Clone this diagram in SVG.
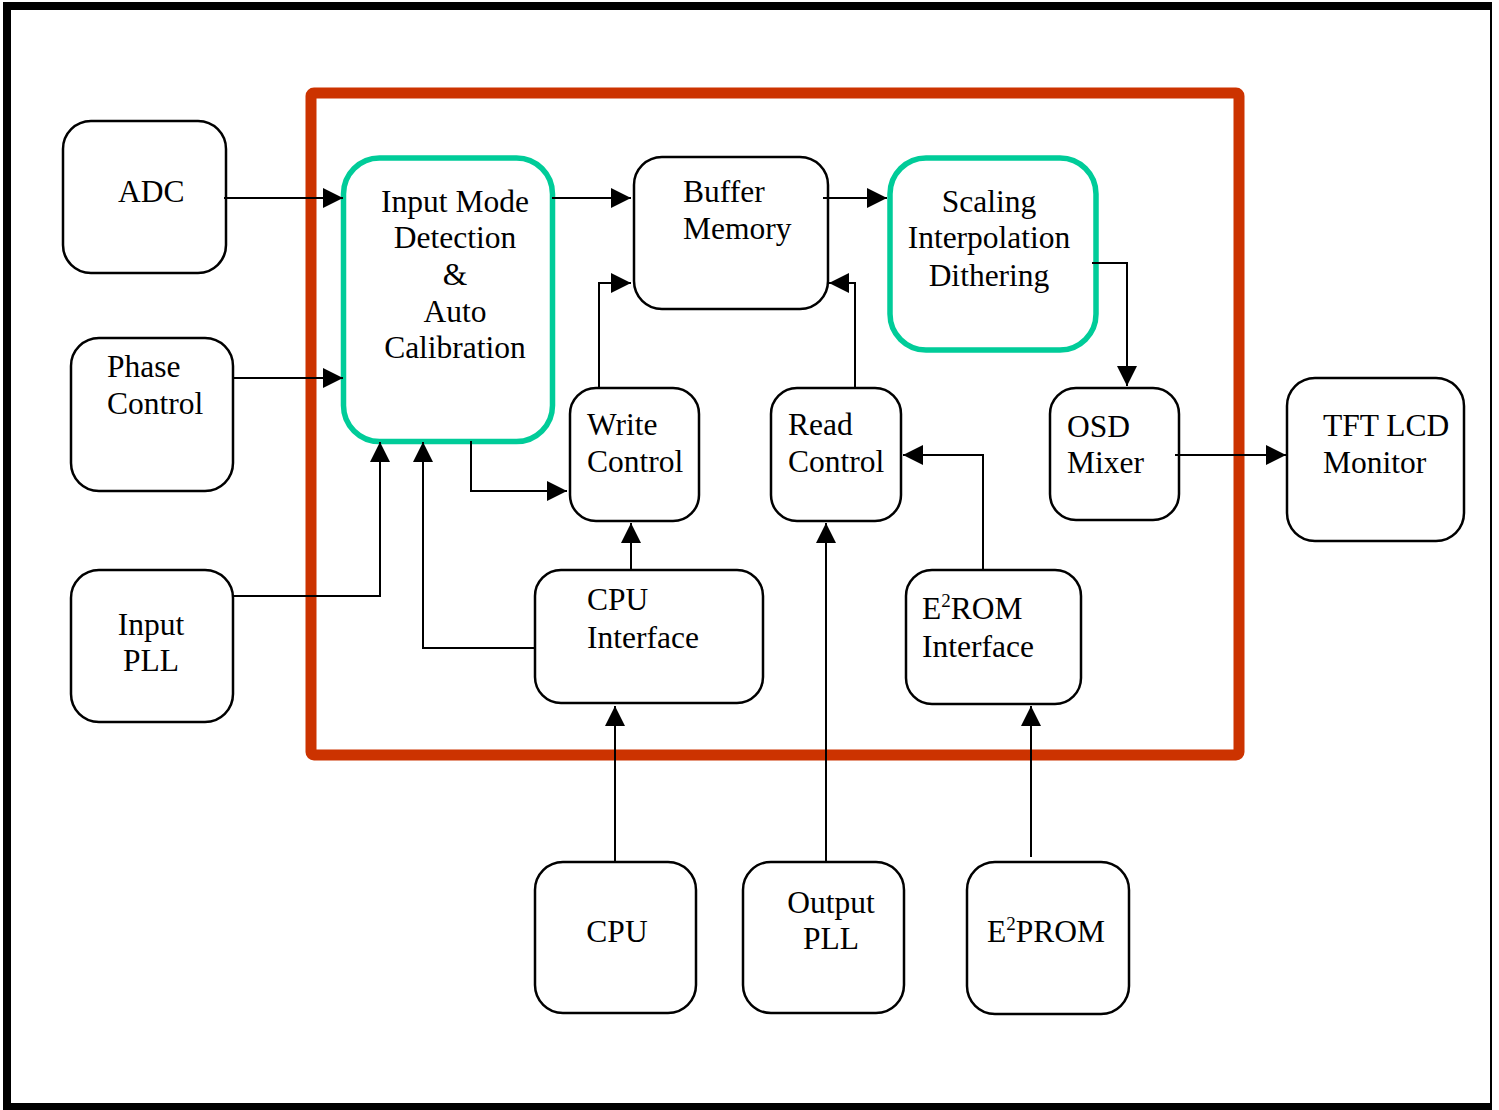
<svg xmlns="http://www.w3.org/2000/svg" width="1499" height="1110" viewBox="0 0 1499 1110">
<style>
.box{fill:#fff;stroke:#000;stroke-width:2.5}
.hl{fill:#fff;stroke:#00CC99;stroke-width:5.5}
.t{font-family:"Liberation Serif","Times New Roman",serif;font-size:31.5px;fill:#000}
.c{text-anchor:middle}
.sup{font-size:19px}
.conn{fill:none;stroke:#000;stroke-width:2}
</style>
<defs>
<marker id="ah" markerUnits="userSpaceOnUse" markerWidth="20" markerHeight="20" refX="20" refY="10" orient="auto">
<path d="M0,0 L20,10 L0,20 Z" fill="#000"/>
</marker>
</defs>
<rect x="0" y="0" width="1499" height="1110" fill="#fff"/>
<g id="frame">
<rect x="3" y="2" width="1489" height="8" fill="#000"/>
<rect x="3" y="2" width="8" height="1108" fill="#000"/>
<rect x="3" y="1103" width="1489" height="7" fill="#000"/>
<rect x="1490" y="2" width="2" height="1108" fill="#000"/>
</g>
<g id="chip">
<rect x="311" y="93" width="928" height="662" rx="3" fill="none" stroke="#CC3300" stroke-width="11"/>
</g>
<g id="adc"><rect class="box" x="63" y="121" width="163" height="152" rx="28"/><text class="t" x="118" y="202">ADC</text></g>
<g id="phase"><rect class="box" x="71" y="338" width="162" height="153" rx="28"/><text class="t" x="107" y="377">Phase</text><text class="t" x="107" y="414">Control</text></g>
<g id="inpll"><rect class="box" x="71" y="570" width="162" height="152" rx="28"/><text class="t c" x="151" y="635">Input</text><text class="t c" x="151" y="671">PLL</text></g>
<g id="inmode"><rect class="hl" x="343.5" y="158" width="209" height="283.5" rx="36"/>
<text class="t c" x="455" y="212">Input Mode</text><text class="t c" x="455" y="248">Detection</text><text class="t c" x="455" y="285">&amp;</text><text class="t c" x="455" y="322">Auto</text><text class="t c" x="455" y="358">Calibration</text></g>
<g id="buffer"><rect class="box" x="634" y="157" width="194" height="152" rx="28"/><text class="t" x="683" y="202">Buffer</text><text class="t" x="683" y="239">Memory</text></g>
<g id="scaling"><rect class="hl" x="890" y="158" width="206" height="192" rx="36"/>
<text class="t c" x="989" y="212">Scaling</text><text class="t c" x="989" y="248">Interpolation</text><text class="t c" x="989" y="286">Dithering</text></g>
<g id="write"><rect class="box" x="570" y="388" width="129" height="133" rx="26"/><text class="t" x="587" y="435">Write</text><text class="t" x="587" y="472">Control</text></g>
<g id="read"><rect class="box" x="771" y="388" width="130" height="133" rx="26"/><text class="t" x="788" y="435">Read</text><text class="t" x="788" y="472">Control</text></g>
<g id="osd"><rect class="box" x="1050" y="388" width="129" height="132" rx="26"/><text class="t" x="1067" y="437">OSD</text><text class="t" x="1067" y="473">Mixer</text></g>
<g id="tft"><rect class="box" x="1287" y="378" width="177" height="163" rx="28"/><text class="t" x="1323" y="436">TFT LCD</text><text class="t" x="1323" y="473">Monitor</text></g>
<g id="cpuif"><rect class="box" x="535" y="570" width="228" height="133" rx="26"/><text class="t" x="587" y="610">CPU</text><text class="t" x="587" y="648">Interface</text></g>
<g id="e2romif"><rect class="box" x="906" y="570" width="175" height="134" rx="26"/><text class="t" x="922" y="619">E<tspan class="sup" dy="-12">2</tspan><tspan dy="12">ROM</tspan></text><text class="t" x="922" y="657">Interface</text></g>
<g id="cpu"><rect class="box" x="535" y="862" width="161" height="151" rx="28"/><text class="t c" x="617" y="942">CPU</text></g>
<g id="outpll"><rect class="box" x="743" y="862" width="161" height="151" rx="28"/><text class="t c" x="831" y="913">Output</text><text class="t c" x="831" y="949">PLL</text></g>
<g id="e2prom"><rect class="box" x="967" y="862" width="162" height="152" rx="28"/><text class="t" x="987" y="942">E<tspan class="sup" dy="-12">2</tspan><tspan dy="12">PROM</tspan></text></g>
<g id="connectors">
<path class="conn" d="M224,198 H343" marker-end="url(#ah)"/>
<path class="conn" d="M233,378 H343" marker-end="url(#ah)"/>
<path class="conn" d="M233,596 H380 V442" marker-end="url(#ah)"/>
<path class="conn" d="M535,648 H423 V442" marker-end="url(#ah)"/>
<path class="conn" d="M552,198 H631" marker-end="url(#ah)"/>
<path class="conn" d="M471,441 V491 H567" marker-end="url(#ah)"/>
<path class="conn" d="M599,388 V283 H631" marker-end="url(#ah)"/>
<path class="conn" d="M855,388 V283 H829" marker-end="url(#ah)"/>
<path class="conn" d="M823,198 H887" marker-end="url(#ah)"/>
<path class="conn" d="M1092,263 H1127 V386" marker-end="url(#ah)"/>
<path class="conn" d="M1175,455 H1286" marker-end="url(#ah)"/>
<path class="conn" d="M983,570 V455 H903" marker-end="url(#ah)"/>
<path class="conn" d="M631,570 V523" marker-end="url(#ah)"/>
<path class="conn" d="M826,862 V523" marker-end="url(#ah)"/>
<path class="conn" d="M615,862 V706" marker-end="url(#ah)"/>
<path class="conn" d="M1031,857 V706" marker-end="url(#ah)"/>
</g>
</svg>
